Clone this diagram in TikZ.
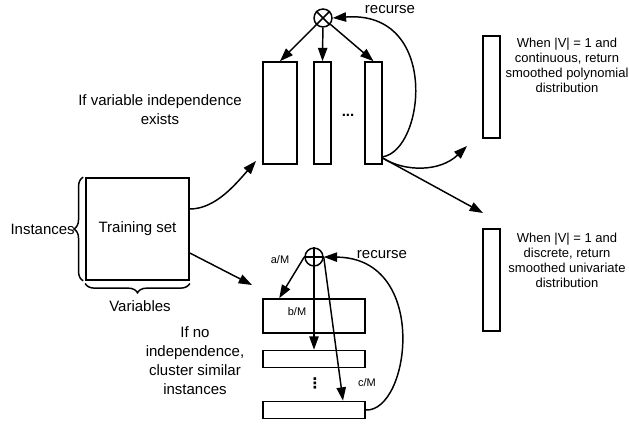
\documentclass[tikz,border=0pt]{standalone}
\usepackage{fontspec}
\setmainfont{Liberation Sans}
\newfontfamily\symfont{DejaVu Sans}
\usetikzlibrary{arrows.meta,decorations.pathreplacing}

\begin{document}
\begin{tikzpicture}[x=0.75pt,y=-0.75pt,
  big/.style={font=\fontsize{11.25pt}{14.25pt}\selectfont,align=center,inner sep=0pt},
  mid/.style={font=\fontsize{9.75pt}{11.25pt}\selectfont,align=center,inner sep=0pt},
  lbl/.style={font=\fontsize{8.25pt}{10pt}\selectfont,inner sep=0pt},
  bar/.style={draw,line width=1.2pt,inner sep=0pt,minimum width=12.75pt,minimum height=76.5pt},
  slab/.style={draw,line width=1.2pt,inner sep=0pt,minimum width=76.5pt,minimum height=12.75pt},
  joint/.style={draw,circle,line width=1.1pt,minimum size=13.5pt,inner sep=0pt},
  arr/.style={line width=1.1pt,-{Triangle[length=10pt,width=7pt]}},
  brc/.style={decorate,decoration={brace,amplitude=7pt,raise=#1},line width=1.1pt}]
\useasboundingbox (0,0) rectangle (629,424);

  \node (train) at (137.5,229) [draw,line width=1.2pt,minimum width=77.25pt,minimum height=76.5pt,big] {Training set};
  \node (inst) at (75,229) [big,anchor=east] {Instances};
  \node (vars) at (140,306) [big] {Variables};
  \draw [brc=1.5pt] (train.south west) to (train.north west);
  \draw [brc=2pt] (train.south east) to (train.south west);

  \node (ot) at (323,18) [joint] {};
  \draw [line width=1.1pt] (ot.north east) to (ot.south west) (ot.north west) to (ot.south east);
  \node (p1) at (280,113) [bar,minimum width=25.5pt] {};
  \node (p2) at (322.5,113) [bar] {};
  \node (p3) at (373.5,113) [bar] {};
  \node (dots) at (348,115) [big,font=\fontsize{11.25pt}{14.25pt}\selectfont\bfseries] {...};
  \node (rec1) at (390,10) [big] {recurse};
  \node (indep) at (160,110) [big] {If variable independence\\exists};

  \node (cont) at (491.5,87) [bar] {};
  \node (disc) at (491.5,280) [bar] {};
  \node (conttxt) at (567,65) [mid] {When |V| = 1 and\\continuous, return\\smoothed polynomial\\distribution};
  \node (disctxt) at (567,260) [mid] {When |V| = 1 and\\discrete, return\\smoothed univariate\\distribution};
  \coordinate (toc) at (467,146);
  \coordinate (tod) at (483,213);

  \node (oc) at (314,257) [joint] {};
  \draw [line width=1.1pt] (oc.north) to (oc.south) (oc.west) to (oc.east);
  \node (c1) at (314,316) [slab,minimum height=25.5pt] {};
  \node (c2) at (314,359) [slab] {};
  \node (c3) at (314,410) [slab] {};
  \node (vd) at (315,383) [inner sep=0pt,font=\symfont\bfseries\fontsize{11pt}{12pt}\selectfont] {⋮};
  \node (am) at (280,260) [lbl] {a/M};
  \node (bm) at (297,312) [lbl] {b/M};
  \node (cm) at (367,383) [lbl] {c/M};
  \node (rec2) at (382,255) [big] {recurse};
  \node (noind) at (195,361) [big] {If no\\independence,\\cluster similar\\instances};
  \coordinate (tup) at (256,161);
  \coordinate (tlo) at (252,285);

  \draw [arr] ([yshift=15pt]train.east) .. controls (215,209) and (235,185) .. (tup);
  \draw [arr] ([yshift=-18pt]train.east) to (tlo);

  \draw [arr] (ot) to (p1.north);
  \draw [arr] (ot) to (p2.north);
  \draw [arr] (ot) to (p3.north);
  \draw [arr] ([yshift=6pt]p3.south east) .. controls (425,150) and (440,10) .. (ot.east);
  \draw [arr] ([yshift=5pt]p3.south east) .. controls (405,172) and (440,172) .. (toc);
  \draw [arr] ([yshift=5pt]p3.south east) to (tod);

  \draw [arr] (oc.west) to ([xshift=12.75pt]c1.north west);
  \draw [arr] (oc.south) to (c2.north);
  \draw [arr] (oc.east) to ([xshift=21.75pt]c3.north);
  \draw [arr] (c3.east) .. controls (410,412) and (430,258) .. (oc.east);

\end{tikzpicture}
\end{document}
